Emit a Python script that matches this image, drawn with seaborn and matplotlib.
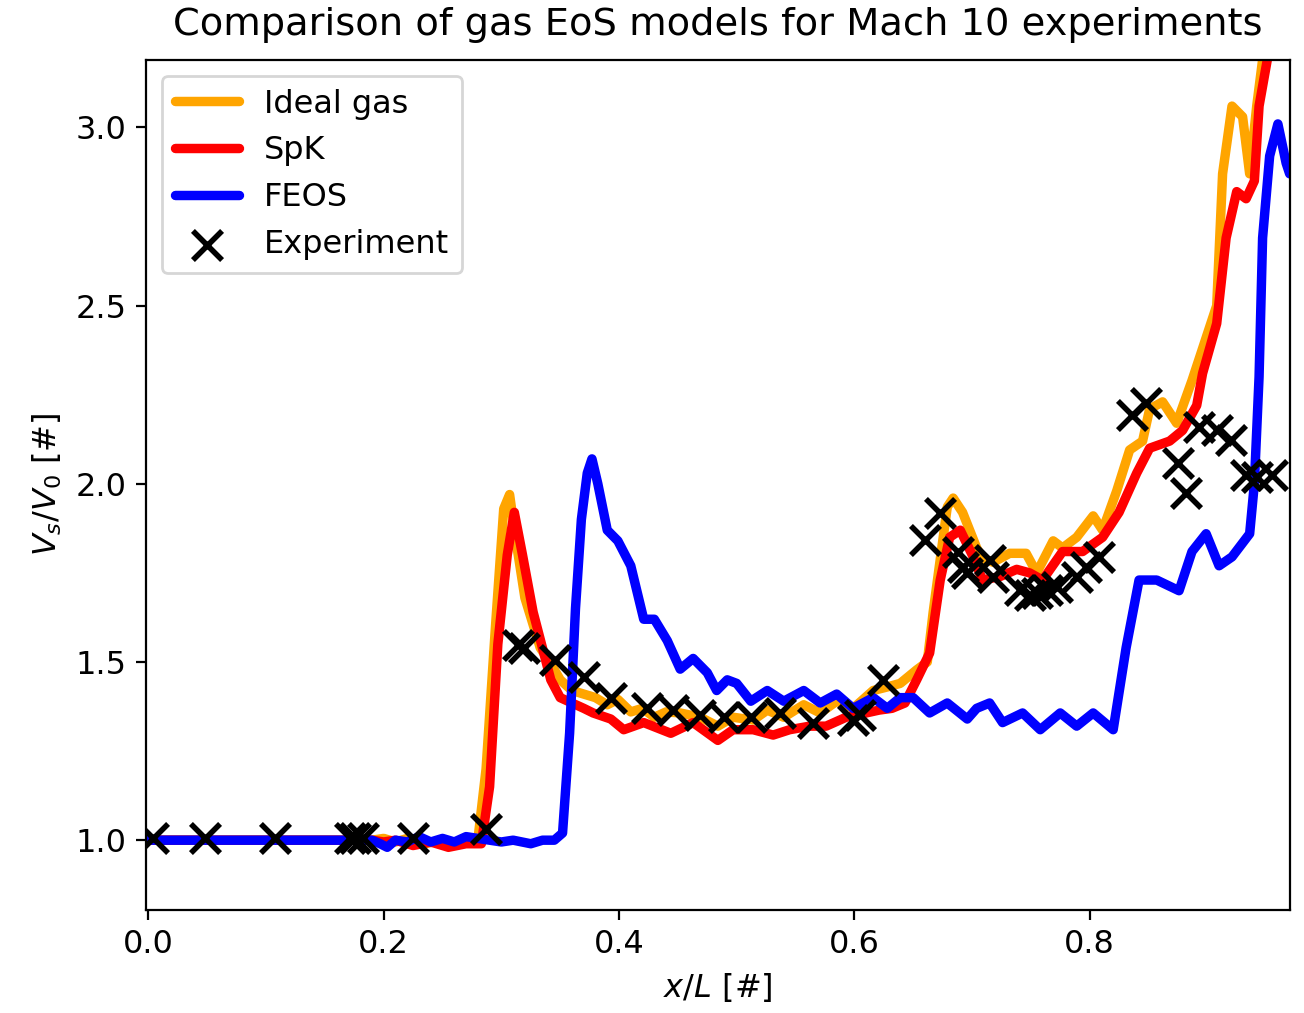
import matplotlib
matplotlib.use("Agg")
import matplotlib.pyplot as plt
import seaborn as sns

# ---- data ----
ideal_x = [0.0, 0.19, 0.20, 0.21, 0.22, 0.235, 0.25, 0.265, 0.28, 0.287, 0.295, 0.302, 0.307, 0.312,
           0.320, 0.333, 0.343, 0.350, 0.360, 0.370, 0.380, 0.390, 0.399, 0.410, 0.420, 0.430, 0.440,
           0.452, 0.469, 0.484, 0.497, 0.514, 0.526, 0.540, 0.557, 0.571, 0.585, 0.599, 0.616, 0.628,
           0.639, 0.653, 0.662, 0.667, 0.679, 0.684, 0.692, 0.704, 0.709, 0.718, 0.732, 0.746, 0.755,
           0.769, 0.777, 0.789, 0.803, 0.811, 0.823, 0.834, 0.845, 0.851, 0.862, 0.874, 0.887, 0.893,
           0.900, 0.908, 0.913, 0.921, 0.930, 0.936, 0.942, 0.947, 0.952]
ideal_y = [1.0, 1.0, 1.005, 0.995, 1.005, 0.99, 1.0, 0.99, 1.0, 1.2, 1.6, 1.93, 1.97, 1.85,
           1.68, 1.54, 1.49, 1.45, 1.42, 1.41, 1.40, 1.38, 1.395, 1.36, 1.37, 1.345, 1.36,
           1.357, 1.345, 1.32, 1.345, 1.337, 1.365, 1.345, 1.38, 1.357, 1.39, 1.37, 1.42, 1.43,
           1.44, 1.478, 1.50, 1.64, 1.935, 1.96, 1.92, 1.82, 1.79, 1.78, 1.805, 1.805, 1.75,
           1.84, 1.82, 1.85, 1.91, 1.87, 1.98, 2.095, 2.12, 2.21, 2.23, 2.17, 2.29, 2.35,
           2.42, 2.50, 2.87, 3.06, 3.03, 2.87, 3.06, 3.19, 3.3]

spk_x = [0.0, 0.19, 0.20, 0.21, 0.225, 0.24, 0.255, 0.27, 0.283, 0.290, 0.297, 0.305, 0.311, 0.318,
         0.327, 0.342, 0.350, 0.370, 0.378, 0.393, 0.404, 0.421, 0.444, 0.463, 0.484, 0.497, 0.514,
         0.531, 0.545, 0.562, 0.576, 0.593, 0.610, 0.621, 0.632, 0.643, 0.653, 0.664, 0.673, 0.681,
         0.690, 0.701, 0.709, 0.724, 0.738, 0.749, 0.760, 0.777, 0.794, 0.811, 0.825, 0.840, 0.851,
         0.868, 0.879, 0.891, 0.896, 0.908, 0.916, 0.925, 0.933, 0.940, 0.944, 0.951, 0.955]
spk_y = [1.0, 1.0, 0.995, 1.0, 0.985, 0.995, 0.98, 0.99, 0.99, 1.15, 1.55, 1.80, 1.92, 1.80,
         1.64, 1.45, 1.40, 1.37, 1.357, 1.34, 1.31, 1.33, 1.30, 1.33, 1.28, 1.31, 1.31,
         1.295, 1.31, 1.32, 1.32, 1.345, 1.357, 1.365, 1.37, 1.385, 1.45, 1.525, 1.73, 1.85,
         1.87, 1.795, 1.73, 1.74, 1.76, 1.75, 1.73, 1.81, 1.81, 1.85, 1.92, 2.03, 2.10,
         2.12, 2.15, 2.22, 2.31, 2.45, 2.69, 2.82, 2.80, 2.85, 3.06, 3.19, 3.3]

feos_x = [0.0, 0.19, 0.197, 0.203, 0.21, 0.22, 0.23, 0.24, 0.25, 0.26, 0.27, 0.28, 0.29, 0.30, 0.31,
          0.325, 0.335, 0.345, 0.352, 0.358, 0.363, 0.368, 0.373, 0.377, 0.382, 0.390, 0.399, 0.410,
          0.421, 0.430, 0.441, 0.452, 0.463, 0.475, 0.483, 0.492, 0.500, 0.512, 0.526, 0.540, 0.557,
          0.571, 0.585, 0.599, 0.616, 0.628, 0.639, 0.650, 0.664, 0.679, 0.696, 0.704, 0.715, 0.726,
          0.743, 0.758, 0.775, 0.789, 0.803, 0.820, 0.831, 0.842, 0.857, 0.876, 0.887, 0.899, 0.910,
          0.921, 0.936, 0.940, 0.944, 0.947, 0.953, 0.960, 0.967, 0.970]
feos_y = [1.0, 1.0, 0.99, 0.98, 1.0, 0.995, 1.01, 0.995, 1.005, 0.995, 1.01, 1.005, 1.0, 0.995, 1.0,
          0.99, 1.0, 1.0, 1.02, 1.3, 1.65, 1.9, 2.03, 2.07, 2.0, 1.87, 1.84, 1.77,
          1.62, 1.62, 1.56, 1.48, 1.51, 1.47, 1.42, 1.45, 1.44, 1.39, 1.42, 1.39, 1.42,
          1.385, 1.41, 1.37, 1.40, 1.37, 1.40, 1.40, 1.357, 1.385, 1.34, 1.37, 1.385, 1.33,
          1.357, 1.31, 1.357, 1.32, 1.357, 1.31, 1.54, 1.73, 1.73, 1.70, 1.81, 1.86, 1.77,
          1.795, 1.86, 2.0, 2.3, 2.69, 2.92, 3.01, 2.90, 2.87]

exp_x = [0.004, 0.048, 0.108, 0.171, 0.176, 0.182, 0.225, 0.287, 0.314, 0.319, 0.346, 0.370, 0.393,
         0.424, 0.446, 0.469, 0.489, 0.512, 0.537, 0.565, 0.599, 0.605, 0.624, 0.660, 0.673, 0.688,
         0.692, 0.696, 0.715, 0.718, 0.741, 0.749, 0.755, 0.764, 0.772, 0.789, 0.797, 0.808, 0.836,
         0.848, 0.875, 0.882, 0.893, 0.908, 0.920, 0.933, 0.942, 0.955]
exp_y = [1.005, 1.005, 1.005, 1.005, 1.005, 1.005, 1.005, 1.03, 1.548, 1.539, 1.506, 1.458, 1.399,
         1.371, 1.365, 1.351, 1.345, 1.345, 1.357, 1.329, 1.337, 1.351, 1.449, 1.843, 1.918, 1.809,
         1.767, 1.750, 1.787, 1.739, 1.702, 1.688, 1.694, 1.702, 1.711, 1.739, 1.767, 1.795, 2.194,
         2.228, 2.059, 1.975, 2.160, 2.152, 2.124, 2.025, 2.020, 2.025]

# ---- plot ----
plt.rcParams["font.size"] = 11.5
fig = plt.figure(figsize=(6.52, 5.065), dpi=200)
ax = fig.add_axes([0.112, 0.102, 0.877, 0.839])

lw = 3.4
kw = dict(solid_joinstyle="round", solid_capstyle="round")
sns.lineplot(x=ideal_x, y=ideal_y, ax=ax, color="orange", linewidth=lw, label="Ideal gas", sort=False, **kw)
sns.lineplot(x=spk_x, y=spk_y, ax=ax, color="red", linewidth=lw, label="SpK", sort=False, **kw)
sns.lineplot(x=feos_x, y=feos_y, ax=ax, color="blue", linewidth=lw, label="FEOS", sort=False, **kw)
sns.scatterplot(x=exp_x, y=exp_y, ax=ax, color="black", marker="x", s=110, linewidth=2.0,
                label="Experiment", zorder=3)

ax.set_xlim(-0.002, 0.97)
ax.set_ylim(0.805, 3.19)
ax.set_xticks([0.0, 0.2, 0.4, 0.6, 0.8])
ax.set_yticks([1.0, 1.5, 2.0, 2.5, 3.0])
ax.tick_params(labelsize=11.5)
ax.set_xlabel("$x/L$ [#]", fontsize=11.5)
ax.set_ylabel("$V_s/V_0$ [#]", fontsize=11.5)
ax.set_title("Comparison of gas EoS models for Mach 10 experiments", fontsize=13.8, pad=9)
leg = ax.legend(loc="upper left", fontsize=11.5)
for h in leg.legend_handles[:3]:
    h.set_linewidth(lw)

fig.savefig("out.png", dpi=200)
